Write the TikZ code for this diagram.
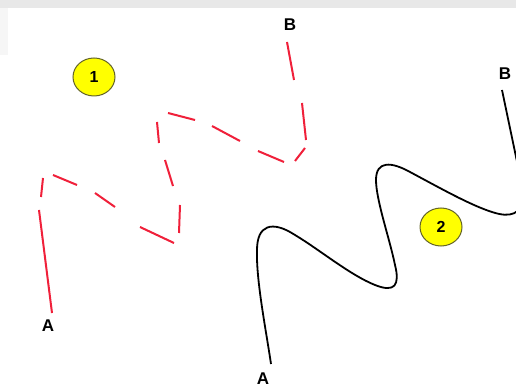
\documentclass[tikz,border=0pt]{standalone}
\usepackage{fontspec}
\setmainfont{Liberation Sans}
\usetikzlibrary{shapes.geometric}
\definecolor{dashred}{RGB}{240,32,58}
\definecolor{bandgray}{RGB}{232,232,232}
\definecolor{edgegray}{RGB}{246,246,246}
\definecolor{marky}{RGB}{255,255,0}
\definecolor{markb}{RGB}{100,100,40}
\begin{document}
\begin{tikzpicture}[x=1pt,y=-1pt,
  lbl/.style={font=\fontsize{17}{17}\selectfont\bfseries, inner sep=0pt},
  badge/.style={ellipse, draw=markb, line width=1pt, fill=marky, minimum width=42pt, minimum height=38pt, inner sep=0pt, font=\fontsize{16}{16}\selectfont\bfseries},
  reddash/.style={dashred, line width=2pt},
  wave/.style={black, line width=1.8pt, line join=round}]
\useasboundingbox (0,0) rectangle (516,387);
\fill[white] (0,0) rectangle (516,387);
\fill[bandgray] (0,0) rectangle (516,8);
\fill[edgegray] (0,8) rectangle (8,55);
% route 1 (dashed red)
\draw[reddash] (52,313) -- (39,210);
\draw[reddash] (41,197) -- (43,178);
\draw[reddash] (53,175) -- (77,185);
\draw[reddash] (95,193) -- (115,207);
\draw[reddash] (140,227) -- (174,243);
\draw[reddash] (179,233) -- (180,205);
\draw[reddash] (173,186) -- (165,160);
\draw[reddash] (159,143) -- (157,122);
\draw[reddash] (168,113) -- (195,120);
\draw[reddash] (212,126) -- (240,141);
\draw[reddash] (258,151) -- (284,162);
\draw[reddash] (295,161) -- (305,148);
\draw[reddash] (306,140) -- (302,103);
\draw[reddash] (294,80) -- (287,42);
% route 2 (black wave)
\begin{scope}
\clip (0,0) rectangle (516,387);
\draw[wave] (271,364) .. controls (266,330) and (256,280) .. (257,250)
  .. controls (257,225) and (272,220) .. (295,235)
  .. controls (320,250) and (350,275) .. (375,285)
  .. controls (395,293) and (400,285) .. (395,265)
  .. controls (390,240) and (376,200) .. (376,180)
  .. controls (376,160) and (392,162) .. (410,172)
  .. controls (440,188) and (470,205) .. (492,212)
  .. controls (510,218) and (522,215) .. (524,195)
  -- (502,90);
\end{scope}
% labels
\node[lbl] (b1) at (290,25) {B};
\node[lbl] (a1) at (48,326) {A};
\node[lbl] (b2) at (505,74) {B};
\node[lbl] (a2) at (263,379) {A};
\node[badge] (n1) at (94,77) {1};
\node[badge] (n2) at (441,227) {2};
\end{tikzpicture}
\end{document}
